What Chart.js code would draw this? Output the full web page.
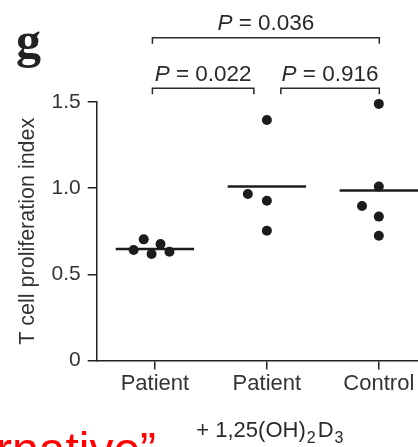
<!DOCTYPE html>
<html>
<head>
<meta charset="utf-8">
<script src="https://cdn.jsdelivr.net/npm/chart.js@4/dist/chart.umd.min.js"></script>
<style>
  html, body { margin: 0; padding: 0; background: #fff; overflow: hidden; }
  canvas { display: block; }
</style>
</head>
<body>
<canvas id="c" width="418" height="447"></canvas>
<script>
// Categories along the x axis
const categories = ['Patient', 'Patient', 'Control'];

// Proliferation index per donor, with horizontal spread (in category units) for overlapping dots
const patientValues = [0.641, 0.703, 0.618, 0.676, 0.631];
const patientSpread = [-0.19, -0.10, -0.03, 0.05, 0.13];
const treatedValues = [1.396, 0.966, 0.927, 0.753];
const treatedSpread = [0, -0.17, 0, 0];
const controlValues = [1.489, 1.009, 0.897, 0.835, 0.724];
const controlSpread = [0, 0, -0.15, 0, 0];

// Group means drawn as horizontal bars
const groupMeans = [0.647, 1.009, 0.986];

// Y axis ticks
const yTicks = [0, 0.5, 1.0, 1.5];
const yTickLabels = ['0', '0.5', '1.0', '1.5'];

// Pairwise comparisons shown as brackets above the plot
const compareFrom = [0, 0, 1];
const compareTo = [2, 1, 2];
const compareP = ['0.036', '0.022', '0.916'];

const FONT = '"Liberation Sans", Arial, Helvetica, sans-serif';
const INK = '#1c1c1c';
Chart.defaults.font.family = FONT;

function dots(values, spread, group) {
  return values.map((v, i) => ({ x: group + spread[i], y: v }));
}

const dotStyle = {
  type: 'scatter',
  pointRadius: 5,
  pointHoverRadius: 5,
  pointBackgroundColor: INK,
  pointBorderWidth: 0,
  clip: false
};

const meanLines = groupMeans.map((m, i) => ({
  type: 'line',
  data: [{ x: i - 0.35, y: m }, { x: i + 0.35, y: m }],
  borderColor: INK,
  borderWidth: 2.5,
  pointRadius: 0,
  clip: false
}));

// Brackets with P values, panel letter and the treatment caption
const annotations = {
  id: 'annotations',
  afterDraw(chart) {
    const { ctx, chartArea, scales: { x } } = chart;
    ctx.save();

    // comparison brackets
    ctx.strokeStyle = '#2a2a2a';
    ctx.lineWidth = 1.5;
    ctx.fillStyle = '#2a2a2a';
    compareFrom.forEach((from, i) => {
      const to = compareTo[i];
      const wide = (to - from) > 1;
      const y = wide ? chartArea.top - 64.3 : chartArea.top - 13.7;
      let x1 = x.getPixelForValue(from) - 2.5;
      let x2 = x.getPixelForValue(to) + 0.5;
      if (!wide && from === 1) x1 = x.getPixelForValue(from) + 14;
      if (!wide && to === 1) x2 = x.getPixelForValue(to) - 13;
      ctx.beginPath();
      ctx.moveTo(x1, y + 6);
      ctx.lineTo(x1, y);
      ctx.lineTo(x2, y);
      ctx.lineTo(x2, y + 6);
      ctx.stroke();

      const italic = 'italic 22.5px ' + FONT;
      const upright = '22.5px ' + FONT;
      const rest = ' = ' + compareP[i];
      ctx.font = italic;
      const wP = ctx.measureText('P').width;
      ctx.font = upright;
      const wR = ctx.measureText(rest).width;
      const start = (x1 + x2) / 2 - (wP + wR) / 2;
      const base = y - 7.5;
      ctx.textBaseline = 'alphabetic';
      ctx.textAlign = 'left';
      ctx.font = italic;
      ctx.fillText('P', start, base);
      ctx.font = upright;
      ctx.fillText(rest, start + wP, base);
    });

    // panel letter
    ctx.fillStyle = '#222';
    ctx.font = 'bold 50px "Liberation Serif", "Times New Roman", serif';
    ctx.textAlign = 'left';
    ctx.fillText('g', 16, 57);

    // treatment caption under the axis
    const parts = [
      ['+ 1,25(OH)', 22, 0, 1],
      ['2', 16, 6, 2],
      ['D', 22, 0, 1],
      ['3', 16, 6, 0]
    ];
    let total = 0;
    parts.forEach(p => { ctx.font = p[1] + 'px ' + FONT; total += ctx.measureText(p[0]).width + p[3]; });
    let cx = x.getPixelForValue(1) + 3 - total / 2;
    ctx.fillStyle = '#2a2a2a';
    parts.forEach(p => {
      ctx.font = p[1] + 'px ' + FONT;
      ctx.fillText(p[0], cx, 436.5 + p[2]);
      cx += ctx.measureText(p[0]).width + p[3];
    });

    // red slide caption running off the lower edge
    ctx.fillStyle = '#ff0000';
    ctx.font = '48px ' + FONT;
    ctx.fillText('rnative\u201D', -4, 466);

    ctx.restore();
  }
};

new Chart(document.getElementById('c'), {
  data: {
    datasets: [
      Object.assign({ data: dots(patientValues, patientSpread, 0) }, dotStyle),
      Object.assign({ data: dots(treatedValues, treatedSpread, 1) }, dotStyle),
      Object.assign({ data: dots(controlValues, controlSpread, 2) }, dotStyle),
      ...meanLines
    ]
  },
  options: {
    responsive: false,
    animation: false,
    events: [],
    layout: { autoPadding: false, padding: { top: 102, right: 0, bottom: 0, left: 0 } },
    plugins: { legend: { display: false }, tooltip: { enabled: false } },
    scales: {
      x: {
        type: 'linear',
        min: -0.52,
        max: 2.35,
        afterBuildTicks: s => { s.ticks = categories.map((c, i) => ({ value: i })); },
        afterFit: s => { s.height = 86.5; s.paddingLeft = 0; s.paddingRight = 0; },
        ticks: {
          callback: v => categories[v],
          color: '#333',
          font: { size: 22 },
          padding: 1,
          autoSkip: false,
          maxRotation: 0
        },
        grid: { drawOnChartArea: false, drawTicks: true, tickLength: 9, color: '#222', lineWidth: 1.5 },
        border: { display: true, color: '#222', width: 1.5 }
      },
      y: {
        type: 'linear',
        min: 0,
        max: 1.5,
        afterBuildTicks: s => { s.ticks = yTicks.map(v => ({ value: v })); },
        afterFit: s => { s.width = 96.7; },
        ticks: {
          callback: (v, i) => yTickLabels[i],
          color: '#333',
          font: { size: 21 },
          padding: 7
        },
        grid: { drawOnChartArea: false, drawTicks: true, tickLength: 9, color: '#222', lineWidth: 1.5 },
        border: { display: true, color: '#222', width: 1.5 },
        title: {
          display: true,
          text: 'T cell proliferation index',
          color: '#333',
          font: { size: 21.5 },
          padding: { top: 15, bottom: 0 }
        }
      }
    }
  },
  plugins: [annotations]
});
</script>
</body>
</html>
